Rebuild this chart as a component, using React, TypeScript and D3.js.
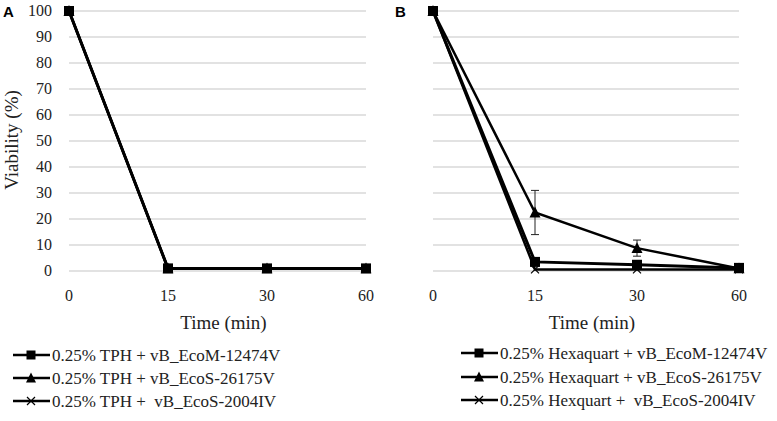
import React from "react";
import * as d3 from "d3";

const times = ["0", "15", "30", "60"];
const yTicks = [0, 10, 20, 30, 40, 50, 60, 70, 80, 90, 100];

// Panel A (TPH)
const aEcoM = [100, 1, 1, 1];
const aEcoS26 = [100, 1, 1, 1];
const aEcoS20 = [100, 1, 1, 1];
// Panel B (Hexaquart)
const bEcoM = [100, 3.5, 2.4, 1.2];
const bEcoS26 = [100, 22.5, 8.8, 1];
const bEcoS26Err = [0, 8.5, 3.1, 0];
const bEcoS20 = [100, 0.6, 0.6, 0.6];

const legendA = [
  "0.25% TPH + vB_EcoM-12474V",
  "0.25% TPH + vB_EcoS-26175V",
  "0.25% TPH +  vB_EcoS-2004IV",
];
const legendB = [
  "0.25% Hexaquart + vB_EcoM-12474V",
  "0.25% Hexaquart + vB_EcoS-26175V",
  "0.25% Hexquart +  vB_EcoS-2004IV",
];

const FONT = "'Liberation Serif', 'Times New Roman', serif";

type Kind = "square" | "triangle" | "cross";

function Marker({ kind, x, y, s }: { kind: Kind; x: number; y: number; s: number }) {
  if (kind === "square")
    return <rect x={x - s / 2} y={y - s / 2} width={s} height={s} fill="#000" />;
  if (kind === "triangle") {
    const h = s * 0.9;
    return (
      <path
        d={`M${x},${y - h / 2 - 1}L${x + s / 2},${y + h / 2}L${x - s / 2},${y + h / 2}Z`}
        fill="#000"
      />
    );
  }
  const r = s / 2;
  return (
    <path
      d={`M${x - r},${y - r}L${x + r},${y + r}M${x - r},${y + r}L${x + r},${y - r}`}
      stroke="#000"
      strokeWidth={1.2}
      fill="none"
    />
  );
}

function Panel({
  x0,
  x1,
  letter,
  letterX,
  series,
  legend,
  legendX,
  legendY,
  showY,
}: {
  x0: number;
  x1: number;
  letter: string;
  letterX: number;
  series: { values: number[]; kind: Kind; err?: number[]; width: number }[];
  legend: string[];
  legendX: number;
  legendY: number[];
  showY: boolean;
}) {
  const x = d3.scalePoint<string>().domain(times).range([x0, x1]).padding(0);
  const y = d3.scaleLinear().domain([0, 100]).range([271, 11]);
  const line = d3
    .line<number>()
    .x((_, i) => x(times[i]) as number)
    .y((d) => y(d));
  const kinds: Kind[] = ["square", "triangle", "cross"];
  return (
    <g>
      {yTicks.map((t) => (
        <line key={t} x1={x0} x2={x1} y1={y(t)} y2={y(t)} stroke="#d9d9d9" strokeWidth={1.5} />
      ))}
      {showY &&
        yTicks.map((t) => (
          <text
            key={"l" + t}
            x={x0 - 17}
            y={y(t) + 5}
            textAnchor="end"
            fontFamily={FONT}
            fontSize={16}
            fill="#222"
          >
            {t}
          </text>
        ))}
      {times.map((t) => (
        <text
          key={"x" + t}
          x={x(t) as number}
          y={301}
          textAnchor="middle"
          fontFamily={FONT}
          fontSize={16}
          fill="#222"
        >
          {t}
        </text>
      ))}
      <text
        x={(x0 + x1) / 2 + 6}
        y={329}
        textAnchor="middle"
        fontFamily={FONT}
        fontSize={19}
        fill="#222"
      >
        Time (min)
      </text>
      <text
        x={letterX}
        y={17}
        fontFamily="'Liberation Sans', Arial, sans-serif"
        fontWeight="bold"
        fontSize={15}
        fill="#000"
      >
        {letter}
      </text>
      {series
        .slice()
        .reverse()
        .map((s, si) => (
          <path key={"p" + si} d={line(s.values) || ""} fill="none" stroke="#000" strokeWidth={s.width} />
        ))}
      {series.map((s, si) =>
        s.err
          ? s.values.map((v, i) =>
              s.err![i] > 0 ? (
                <g key={"e" + si + i} stroke="#222" strokeWidth={1}>
                  <line
                    x1={x(times[i]) as number}
                    x2={x(times[i]) as number}
                    y1={y(v + s.err![i])}
                    y2={y(v - s.err![i])}
                  />
                  <line
                    x1={(x(times[i]) as number) - 4}
                    x2={(x(times[i]) as number) + 4}
                    y1={y(v + s.err![i])}
                    y2={y(v + s.err![i])}
                  />
                  <line
                    x1={(x(times[i]) as number) - 4}
                    x2={(x(times[i]) as number) + 4}
                    y1={y(v - s.err![i])}
                    y2={y(v - s.err![i])}
                  />
                </g>
              ) : null
            )
          : null
      )}
      {series
        .slice()
        .reverse()
        .map((s, si) =>
          s.values.map((v, i) => (
            <Marker
              key={"m" + si + "-" + i}
              kind={s.kind}
              x={x(times[i]) as number}
              y={y(v)}
              s={s.kind === "square" ? 10 : s.kind === "triangle" ? 11 : 8}
            />
          ))
        )}
      {legend.map((txt, i) => (
        <g key={"lg" + i}>
          <line
            x1={legendX}
            x2={legendX + 37}
            y1={legendY[i]}
            y2={legendY[i]}
            stroke="#000"
            strokeWidth={2.5}
          />
          <Marker
            kind={kinds[i]}
            x={legendX + 18}
            y={legendY[i]}
            s={kinds[i] === "square" ? 9 : kinds[i] === "triangle" ? 10 : 8}
          />
          <text
            x={legendX + 39}
            y={legendY[i] + 6}
            fontFamily={FONT}
            fontSize={17}
            fill="#222"
            style={{ whiteSpace: "pre" }}
          >
            {txt}
          </text>
        </g>
      ))}
    </g>
  );
}

export default function App() {
  return (
    <div style={{ position: "absolute", left: 0, top: 0 }}>
      <svg width={777} height={421} style={{ display: "block", background: "#fff" }}>
        <text
          transform="translate(18,140) rotate(-90)"
          textAnchor="middle"
          fontFamily={FONT}
          fontSize={19}
          fill="#222"
        >
          Viability (%)
        </text>
        <Panel
          x0={69}
          x1={366}
          letter="A"
          letterX={3}
          showY={true}
          series={[
            { values: aEcoM, kind: "square", width: 3 },
            { values: aEcoS26, kind: "triangle", width: 2.5 },
            { values: aEcoS20, kind: "cross", width: 2.5 },
          ]}
          legend={legendA}
          legendX={13}
          legendY={[355, 378, 401]}
        />
        <Panel
          x0={433}
          x1={739}
          letter="B"
          letterX={395}
          showY={false}
          series={[
            { values: bEcoM, kind: "square", width: 3 },
            { values: bEcoS26, kind: "triangle", width: 2.5, err: bEcoS26Err },
            { values: bEcoS20, kind: "cross", width: 2.5 },
          ]}
          legend={legendB}
          legendX={461}
          legendY={[353, 377, 400]}
        />
      </svg>
    </div>
  );
}
